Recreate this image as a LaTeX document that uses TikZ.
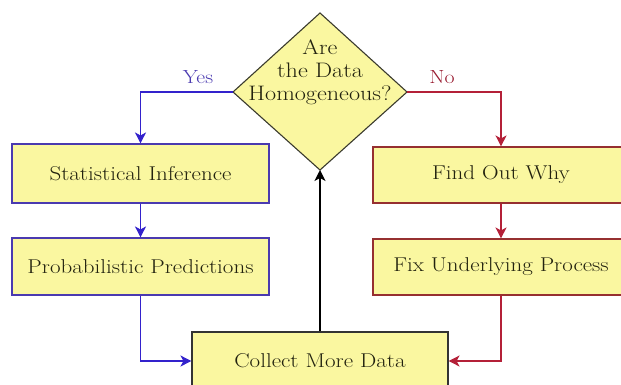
\documentclass[tikz,border=0pt]{standalone}
\usepackage{fontspec}
\setmainfont{Latin Modern Roman}[FakeStretch=1.15]
\usetikzlibrary{arrows.meta}
\definecolor{boxfill}{HTML}{FAF7A0}
\definecolor{txt}{HTML}{22220F}
\definecolor{bl}{HTML}{3322CC}
\definecolor{blborder}{HTML}{4A3AB0}
\definecolor{rd}{HTML}{B42038}
\definecolor{rdborder}{HTML}{963030}
\definecolor{gr}{HTML}{333333}
\tikzset{
  box/.style={draw, fill=boxfill, line width=1.1pt, minimum width=257pt, inner sep=0pt,
    text=txt, font=\fontsize{20}{23}\selectfont},
  bluebox/.style={box, draw=blborder},
  redbox/.style={box, draw=rdborder},
  greybox/.style={box, draw=gr},
  blarrow/.style={draw=bl, line width=1.2pt, -{Stealth[length=11pt,width=11pt,inset=3pt]}, color=bl},
  rdarrow/.style={draw=rd, line width=1.2pt, -{Stealth[length=11pt,width=11pt,inset=3pt]}, color=rd},
  blkarrow/.style={draw=black, line width=1.2pt, -{Stealth[length=11pt,width=11pt,inset=3pt]}},
  lbl/.style={font=\fontsize{19}{23}\selectfont}
}
\begin{document}
\begin{tikzpicture}[x=1pt,y=-1pt]
\useasboundingbox (0,0) rectangle (621,385);
\clip (0,0) rectangle (621,385);
% diamond
\coordinate (qT) at (320,13);
\coordinate (qL) at (233,92);
\coordinate (qR) at (407,92);
\coordinate (qB) at (320,170);
\draw[fill=boxfill, draw=gr!90!olive, line width=1.1pt] (qT) -- (qR) -- (qB) -- (qL) -- cycle;
\node[align=center, text=txt, font=\fontsize{21}{23}\selectfont, inner sep=0pt] (q) at (320,72) {Are\\the Data\\Homogeneous?};
% boxes
\node[bluebox, minimum height=59pt] (si) at (140.5,173.5) {Statistical Inference};
\node[bluebox, minimum height=57pt] (pp) at (140.5,266.5) {Probabilistic Predictions};
\node[redbox, minimum width=256pt, minimum height=56pt] (fw) at (501,175) {Find Out Why};
\node[redbox, minimum width=256pt, minimum height=56pt] (fu) at (501,267) {Fix Underlying Process};
\node[greybox, minimum width=256pt, minimum height=58pt] (cm) at (320,361) {Collect More Data};
% connectors
\draw[blarrow] (qL) -| (si.north);
\draw[blarrow] (si.south) -- (pp.north);
\draw[blarrow] (pp.south) |- (cm.west);
\draw[rdarrow] (qR) -| (fw.north);
\draw[rdarrow] (fw.south) -- (fu.north);
\draw[rdarrow] (fu.south) |- (cm.east);
\draw[blkarrow] (cm.north) -- (qB);
% labels
\node[lbl, text=blborder] (yes) at (198,77) {Yes};
\node[lbl, text=rd!85!black] (no) at (442,77) {No};
\end{tikzpicture}
\end{document}
